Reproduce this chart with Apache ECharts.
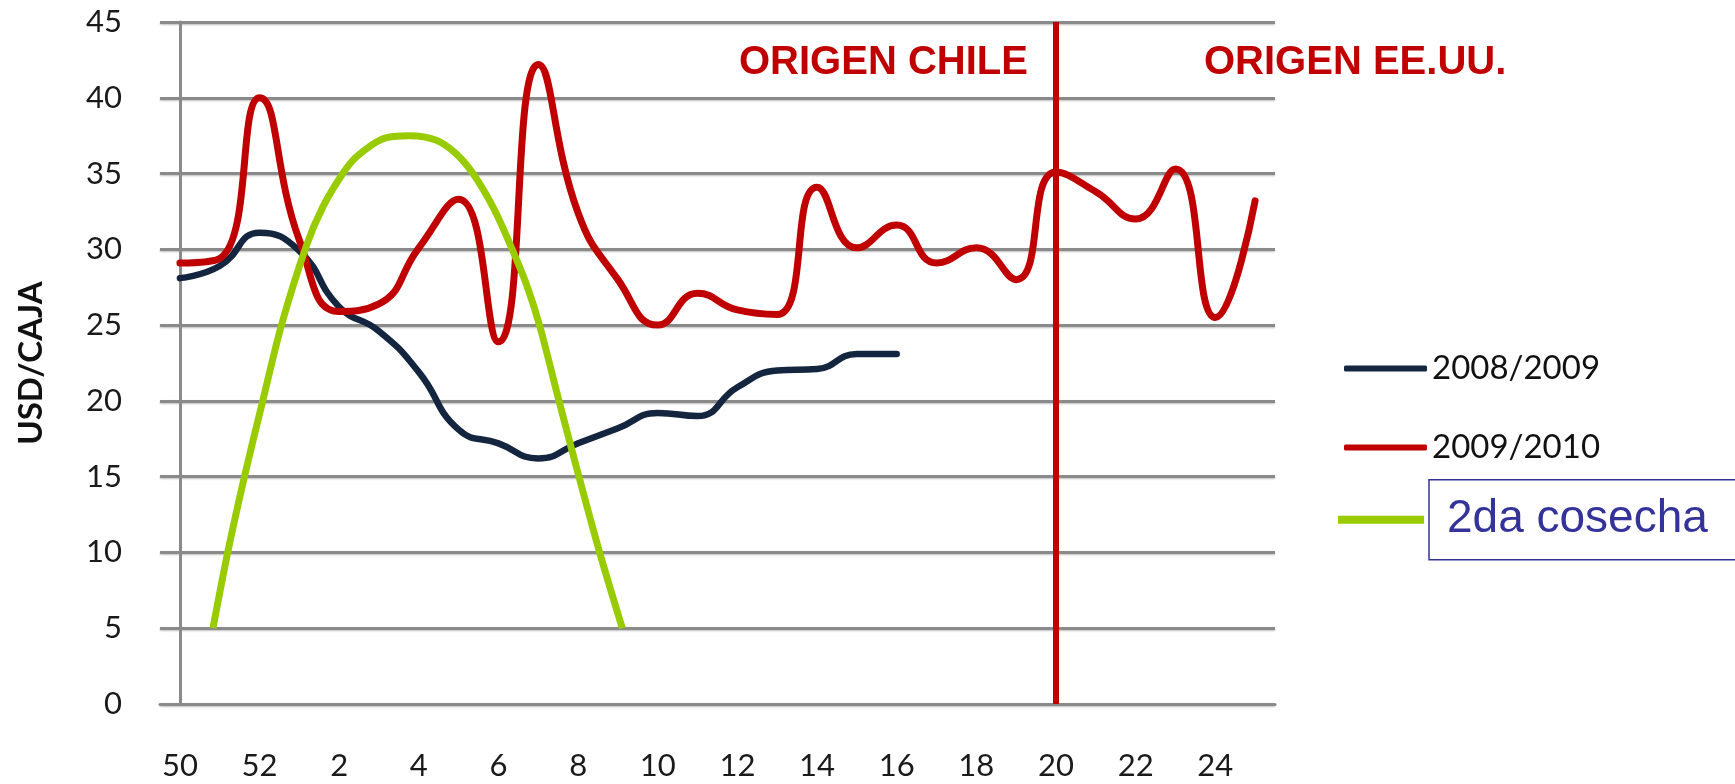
<!DOCTYPE html>
<html>
<head>
<meta charset="utf-8">
<script src="https://cdn.jsdelivr.net/npm/echarts@6/dist/echarts.min.js"></script>
<style>
  html, body { margin: 0; padding: 0; background: #fff; }
  #chart { width: 1735px; height: 784px; }
</style>
</head>
<body>
<div id="chart"></div>
<script>
// semanas (eje X)
const weeks = ['50', '51', '52', '1', '2', '3', '4', '5', '6', '7', '8', '9', '10', '11', '12',
  '13', '14', '15', '16', '17', '18', '19', '20', '21', '22', '23', '24', '25'];

// precios USD/caja
const season0809 = [28.1, 28.9, 31.1, 29.9, 26.2, 24.6, 21.9, 18.1, 17.2, 16.2, 17.2, 18.2, 19.2, 19.0,
  20.9, 22, 22.1, 23.1, 23.1, null, null, null, null, null, null, null, null, null];
const season0910 = [29.1, 29.4, 40, 30.6, 25.9, 26.4, 30.1, 33.3, 23.9, 42.2, 32.4, 28.0, 25, 27.1, 26,
  25.7, 34.1, 30.1, 31.6, 29.1, 30.1, 28, 35.1, 33.8, 32, 35.3, 25.5, 33.2];

// curva "2da cosecha": posicion (indice de semana, con fraccion) y valor
const harvestPos = [0.83, 1.20, 1.62, 2.08, 2.55, 3.17, 3.59, 4.09, 4.43, 5.10, 5.77, 6.44, 6.94,
  7.36, 7.86, 8.28, 8.70, 9.03, 9.52, 10.02, 10.54, 11.11];
const harvestVal = [5, 10, 15, 20, 25, 30.2, 32.8, 35, 36.1, 37.3, 37.5, 37.2, 36.3,
  35, 32.8, 30.4, 27.7, 25, 20, 15, 10, 5];

// semana donde cambia el origen
const originSwitchWeek = '20';

const chart = echarts.init(document.getElementById('chart'));

const gridGray = '#8a8a8a';

const option = {
  backgroundColor: '#ffffff',
  animation: false,
  grid: { left: 160, top: 22, width: 1115, height: 682 },
  xAxis: [
    {
      type: 'category',
      data: weeks,
      boundaryGap: true,
      axisLine: { show: true, lineStyle: { color: gridGray, width: 3 } },
      axisTick: { show: false },
      axisLabel: {
        interval: 1,
        margin: 46,
        fontFamily: 'Lato',
        fontSize: 31,
        color: '#1a1a1a'
      },
      splitLine: { show: false }
    },
    {
      // eje auxiliar para la curva de cosecha (misma escala que las categorias)
      type: 'value',
      min: -0.5,
      max: 27.5,
      show: false
    }
  ],
  yAxis: {
    type: 'value',
    min: 0,
    max: 45,
    interval: 5,
    name: 'USD/CAJA',
    nameLocation: 'middle',
    nameGap: 112,
    nameTextStyle: { fontFamily: 'Lato', fontWeight: 'bold', fontSize: 33, color: '#111' },
    axisLine: { show: true, lineStyle: { color: gridGray, width: 3 } },
    axisTick: { show: false },
    axisLabel: { margin: 38, fontFamily: 'Lato', fontSize: 31, color: '#1a1a1a' },
    splitLine: {
      lineStyle: {
        color: gridGray, width: 3,
        shadowColor: 'rgba(0,0,0,0.25)', shadowBlur: 2, shadowOffsetY: 1
      }
    }
  },
  legend: [
    {
      data: ['2008/2009', '2009/2010'],
      orient: 'vertical',
      left: 1339,
      top: 347,
      itemWidth: 83,
      itemHeight: 6,
      itemGap: 46,
      icon: 'roundRect',
      selectedMode: false,
      textStyle: { fontFamily: 'Lato', fontSize: 33, color: '#111', lineHeight: 30 }
    },
    {
      data: ['2da cosecha'],
      left: 1333,
      top: 474,
      itemWidth: 86,
      itemHeight: 8,
      icon: 'rect',
      selectedMode: false,
      textStyle: {
        fontFamily: 'Liberation Sans',
        fontSize: 46,
        color: '#333399',
        lineHeight: 52,
        borderColor: '#333399',
        borderWidth: 1.5,
        padding: [14, 200, 14, 18]
      }
    }
  ],
  graphic: [
    {
      type: 'text', left: 739, top: 43,
      style: { text: 'ORIGEN CHILE', fill: '#c00000', font: 'bold 40px "Liberation Sans"' }
    },
    {
      type: 'text', left: 1204, top: 43,
      style: { text: 'ORIGEN EE.UU.', fill: '#c00000', font: 'bold 40px "Liberation Sans"' }
    }
  ],
  series: [
    {
      name: '2008/2009',
      type: 'line',
      data: season0809,
      smooth: true,
      symbol: 'none',
      itemStyle: { color: '#14263f' },
      lineStyle: { color: '#14263f', width: 6.5, cap: 'round' }
    },
    {
      name: '2009/2010',
      type: 'line',
      data: season0910,
      smooth: true,
      symbol: 'none',
      itemStyle: { color: '#c00000' },
      lineStyle: { color: '#c00000', width: 7, cap: 'round' },
      markLine: {
        silent: true,
        symbol: 'none',
        label: { show: false },
        lineStyle: { color: '#c00000', width: 6, type: 'solid' },
        data: [{ xAxis: originSwitchWeek }]
      }
    },
    {
      name: '2da cosecha',
      type: 'line',
      xAxisIndex: 1,
      data: harvestPos.map((p, i) => [p, harvestVal[i]]),
      smooth: 0.3,
      symbol: 'none',
      itemStyle: { color: '#99cc00' },
      lineStyle: { color: '#99cc00', width: 7 }
    }
  ]
};

chart.setOption(option);
</script>
</body>
</html>
